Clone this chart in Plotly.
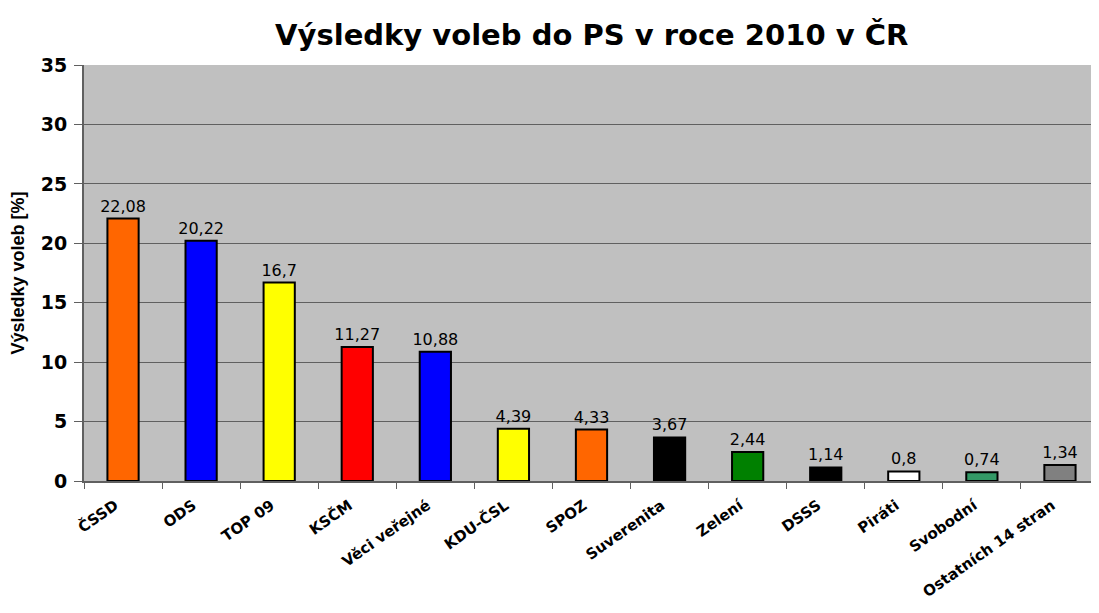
import plotly.graph_objects as go

parties = ["ČSSD", "ODS", "TOP 09", "KSČM", "Věci veřejné", "KDU-ČSL", "SPOZ",
           "Suverenita", "Zelení", "DSSS", "Piráti", "Svobodní", "Ostatních 14 stran"]
results = [22.08, 20.22, 16.7, 11.27, 10.88, 4.39, 4.33, 3.67, 2.44, 1.14, 0.8, 0.74, 1.34]
colors = ["#FF6600", "#0000FF", "#FFFF00", "#FF0000", "#0000FF", "#FFFF00", "#FF6600",
          "#000000", "#008000", "#000000", "#FFFFFF", "#339966", "#808080"]
y_ticks = [0, 5, 10, 15, 20, 25, 30, 35]

labels = [str(v).replace(".", ",") for v in results]

fig = go.Figure(go.Bar(
    x=parties, y=results,
    marker=dict(color=colors, line=dict(color="#000000", width=2)),
    text=labels, textposition="outside", cliponaxis=False, constraintext="none",
    textfont=dict(family="DejaVu Sans", size=16, color="#000000"),
))

fig.update_layout(
    width=1091, height=605,
    margin=dict(l=76, r=0, t=57, b=132),
    paper_bgcolor="#FFFFFF", plot_bgcolor="#C0C0C0",
    bargap=0.6,
    showlegend=False,
    title=dict(text="<b>Výsledky voleb do PS v roce 2010 v ČR</b>",
               x=0.535, xanchor="center", y=0.955, yanchor="middle",
               font=dict(family="DejaVu Sans", size=29, color="#000000")),
    font=dict(family="DejaVu Sans", color="#000000"),
)
fig.update_xaxes(
    type="category", tickangle=-35, tickson="boundaries",
    ticks="outside", ticklen=6, tickcolor="#606060",
    showline=True, linecolor="#606060", linewidth=2,
    tickfont=dict(family="DejaVu Sans", size=15, color="#000000", weight="bold"),
    ticklabelstandoff=8, ticklabelshift=-8,
    showgrid=False, automargin=False,
)
fig.update_yaxes(
    range=[0, 35], tickvals=y_ticks,
    ticks="outside", ticklen=8, tickcolor="#606060",
    showline=True, linecolor="#606060", linewidth=2,
    showgrid=True, gridcolor="#606060", gridwidth=1,
    zeroline=False, automargin=False,
    ticklabelstandoff=3,
    tickfont=dict(family="DejaVu Sans", size=19, color="#000000", weight="bold"),
    title=dict(text="<b>Výsledky voleb [%]</b>", standoff=18,
               font=dict(family="Liberation Sans, Arial", size=18, color="#000000")),
)

fig.write_html("out.html")
